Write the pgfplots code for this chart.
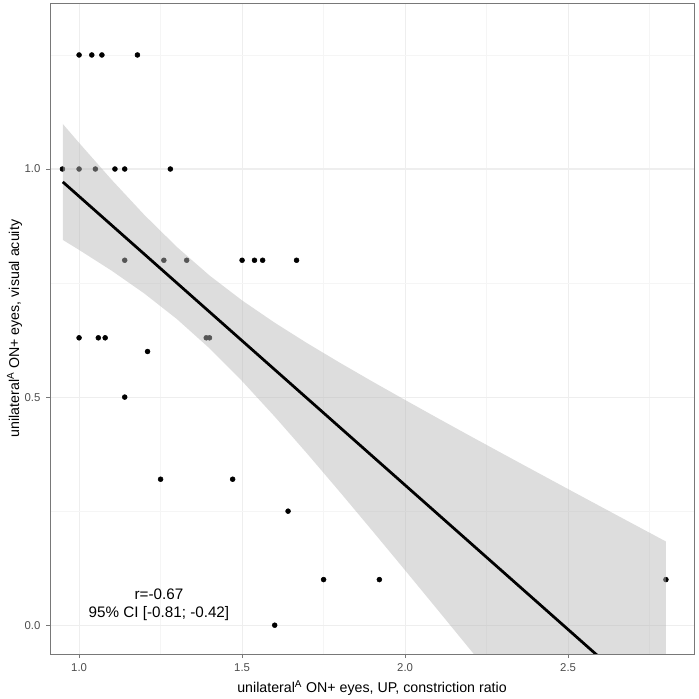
\documentclass[border=0pt]{standalone}
\usepackage{pgfplots}
\pgfplotsset{compat=1.18}
\usepackage{fontspec}
\setmainfont{Liberation Sans}

\definecolor{gridmaj}{RGB}{238,238,238}
\definecolor{gridmin}{RGB}{245,245,245}
\definecolor{tickgray}{RGB}{77,77,77}
\definecolor{borderc}{RGB}{120,120,120}
\definecolor{ribbon}{RGB}{182,182,182}

\begin{document}
\begin{tikzpicture}
\begin{axis}[
  name=ax,
  scale only axis,
  width=499pt, height=504.7pt,
  xmin=0.911, xmax=2.886,
  ymin=-0.0636, ymax=1.364,
  xtick={1.0,1.5,2.0,2.5},
  ytick={0.0,0.5,1.0},
  minor xtick={0.75,1.25,1.75,2.25,2.75},
  minor ytick={0.25,0.75,1.25},
  xticklabels={1.0,1.5,2.0,2.5},
  yticklabels={0.0,0.5,1.0},
  grid=both,
  major grid style={gridmaj, line width=0.9pt},
  minor grid style={gridmin, line width=0.5pt},
  axis line style={borderc, line width=0.6pt},
  tick align=outside,
  tick pos=left,
  major tick length=3pt,
  minor tick length=0pt,
  tick style={borderc, line width=0.6pt},
  ticklabel style={font=\fontsize{8.8}{10}\selectfont, text=tickgray},
  xticklabel style={yshift=-1pt},
  yticklabel style={xshift=-1pt},
  clip marker paths=true,
]
% observations
\addplot[only marks, mark=*, mark size=1.9pt, mark options={fill=black, draw=black}] coordinates {
  (1.000,1.25) (1.039,1.25) (1.070,1.25) (1.179,1.25)
  (0.949,1.00) (1.000,1.00) (1.050,1.00) (1.110,1.00) (1.140,1.00) (1.280,1.00)
  (1.140,0.80) (1.260,0.80) (1.330,0.80) (1.500,0.80) (1.538,0.80) (1.563,0.80) (1.667,0.80)
  (1.000,0.63) (1.059,0.63) (1.080,0.63) (1.390,0.63) (1.400,0.63)
  (1.210,0.60) (1.140,0.50) (1.250,0.32) (1.471,0.32) (1.641,0.25)
  (1.750,0.10) (1.600,0.00) (1.921,0.10) (2.800,0.10)
};
% 95% confidence band of the fit
\addplot[draw=none, fill=ribbon, fill opacity=0.47] coordinates {
  (0.95,1.0988) (1.0,1.0573) (1.1,0.9763) (1.2,0.8995) (1.3,0.8291)
  (1.4,0.7666) (1.5,0.7119) (1.6,0.6631) (1.7,0.6180) (1.8,0.5753)
  (1.9,0.5340) (2.0,0.4937) (2.1,0.4539) (2.2,0.4146) (2.3,0.3757)
  (2.4,0.3370) (2.5,0.2984) (2.6,0.2600) (2.7,0.2217) (2.8,0.1835)
  (2.8,-0.5823) (2.7,-0.4939) (2.6,-0.4056) (2.5,-0.3174) (2.4,-0.2294)
  (2.3,-0.1415) (2.2,-0.0538) (2.1,0.0335) (2.0,0.1204) (1.9,0.2066)
  (1.8,0.2919) (1.7,0.3758) (1.6,0.4573) (1.5,0.5351) (1.4,0.6070)
  (1.3,0.6711) (1.2,0.7272) (1.1,0.7771) (1.0,0.8227) (0.95,0.8446)
} -- cycle;
% fitted line
\addplot[black, line width=2.13pt] coordinates {(0.95,0.9717) (2.8,-0.1994)};
\node[align=center, font=\fontsize{11.8}{13.5}\selectfont] at (axis cs:1.245,0.045)
  {r=-0.67\\95\% CI [-0.81; -0.42]};
\end{axis}
\draw[borderc, line width=0.6pt] (ax.south west) rectangle (ax.north east);
\node[anchor=north, inner sep=0pt, font=\fontsize{11}{13}\selectfont]
  at ([yshift=-20pt]ax.south) {unilateral\textsuperscript{A} ON+ eyes, UP, constriction ratio};
\node[anchor=base, rotate=90, inner sep=0pt, font=\fontsize{11}{13}\selectfont]
  at ([xshift=-24pt]ax.west) {unilateral\textsuperscript{A} ON+ eyes, visual acuity};
\pgfresetboundingbox
\path ([xshift=-38.8pt,yshift=-34.1pt]ax.south west) rectangle ([xshift=3.9pt,yshift=2.3pt]ax.north east);
\end{tikzpicture}
\end{document}
